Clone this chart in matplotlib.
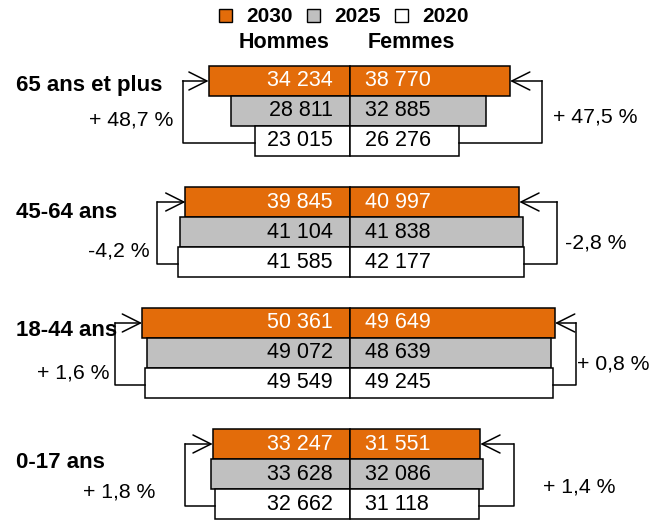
import matplotlib
matplotlib.use('Agg')
import matplotlib.pyplot as plt
from matplotlib.patches import Patch

plt.rcParams['font.family'] = ['Liberation Sans', 'DejaVu Sans']

groups = ['65 ans et plus', '45-64 ans', '18-44 ans', '0-17 ans']
years = ['2030', '2025', '2020']
colors = ['#E36C0A', '#C0C0C0', '#FFFFFF']
text_colors = ['white', 'black', 'black']

hommes_2030 = [34234, 39845, 50361, 33247]
hommes_2025 = [28811, 41104, 49072, 33628]
hommes_2020 = [23015, 41585, 49549, 32662]
femmes_2030 = [38770, 40997, 49649, 31551]
femmes_2025 = [32885, 41838, 48639, 32086]
femmes_2020 = [26276, 42177, 49245, 31118]

evol_hommes = ['+ 48,7 %', '-4,2 %', '+ 1,6 %', '+ 1,8 %']
evol_femmes = ['+ 47,5 %', '-2,8 %', '+ 0,8 %', '+ 1,4 %']

hommes = [hommes_2030, hommes_2025, hommes_2020]
femmes = [femmes_2030, femmes_2025, femmes_2020]

# layout (pixels)
k = 0.00413          # px per person
cx = 350             # centre line in px
def px(p):
    return (p - cx) / k

row_h = 30
def yc(i, j):
    return 81 + 121 * i + row_h * j

lab_dy = [5, 11, 8, 19]
left_gap = [26, 21, 27, 26]
right_gap = [32, 33, 21, 31]
pl_x = [173, 150, 110, 155]
pl_dy = [39, 49, 50, 48]
pr_x = [553, 565, 577, 543]
pr_dy = [36, 41, 41, 43]

fig = plt.figure(figsize=(6.62, 5.20), dpi=100)
ax = fig.add_axes([0, 0, 1, 1])
ax.set_xlim(px(0), px(662))
ax.set_ylim(520, 0)
ax.axis('off')

fmt = lambda v: f'{v:,}'.replace(',', ' ')
pad = 15 / k

for j in range(3):
    ys = [yc(i, j) for i in range(4)]
    ax.barh(ys, [-v for v in hommes[j]], height=row_h, color=colors[j],
            edgecolor='black', linewidth=1.1)
    ax.barh(ys, femmes[j], height=row_h, color=colors[j],
            edgecolor='black', linewidth=1.1)
    for i in range(4):
        ax.text(-pad - 2 / k, ys[i], fmt(hommes[j][i]), ha='right', va='center',
                fontsize=15.5, color=text_colors[j])
        ax.text(pad, ys[i], fmt(femmes[j][i]), ha='left', va='center',
                fontsize=15.5, color=text_colors[j])

arrow = dict(arrowstyle='->,head_length=0.72,head_width=0.36', lw=1.1,
             color='black', shrinkA=0, shrinkB=0, mutation_scale=18)
for i in range(4):
    ax.text(px(16), yc(i, 0) + lab_dy[i], groups[i], ha='left', va='center',
            fontsize=16, fontweight='bold')
    y_top = yc(i, 0)
    y_bot = yc(i, 2) + 2
    # left bracket
    xl = -max(hommes_2030[i], hommes_2025[i], hommes_2020[i]) - left_gap[i] / k
    ax.plot([-hommes_2020[i], xl, xl], [y_bot, y_bot, y_top], color='black', lw=1.1)
    ax.annotate('', xy=(-hommes_2030[i], y_top), xytext=(xl, y_top), arrowprops=arrow)
    # right bracket
    xr = max(femmes_2030[i], femmes_2025[i], femmes_2020[i]) + right_gap[i] / k
    ax.plot([femmes_2020[i], xr, xr], [y_bot, y_bot, y_top], color='black', lw=1.1)
    ax.annotate('', xy=(femmes_2030[i], y_top), xytext=(xr, y_top), arrowprops=arrow)
    ax.text(px(pl_x[i]), y_top + pl_dy[i], evol_hommes[i], ha='right', va='center',
            fontsize=15.3)
    ax.text(px(pr_x[i]), y_top + pr_dy[i], evol_femmes[i], ha='left', va='center',
            fontsize=15.3)

ax.text(px(284), 42, 'Hommes', ha='center', va='center', fontsize=15.5, fontweight='bold')
ax.text(px(411), 42, 'Femmes', ha='center', va='center', fontsize=15.5, fontweight='bold')

handles = [Patch(facecolor=c, edgecolor='black', linewidth=1.0) for c in colors]
ax.legend(handles, years, ncol=3, loc='center', bbox_to_anchor=(344 / 662, 1 - 17 / 520),
          frameon=False, handlelength=0.6, handleheight=0.6, handletextpad=0.7,
          columnspacing=0.7, borderpad=0, prop={'weight': 'bold', 'size': 15})

fig.savefig('out.png', dpi=100)
